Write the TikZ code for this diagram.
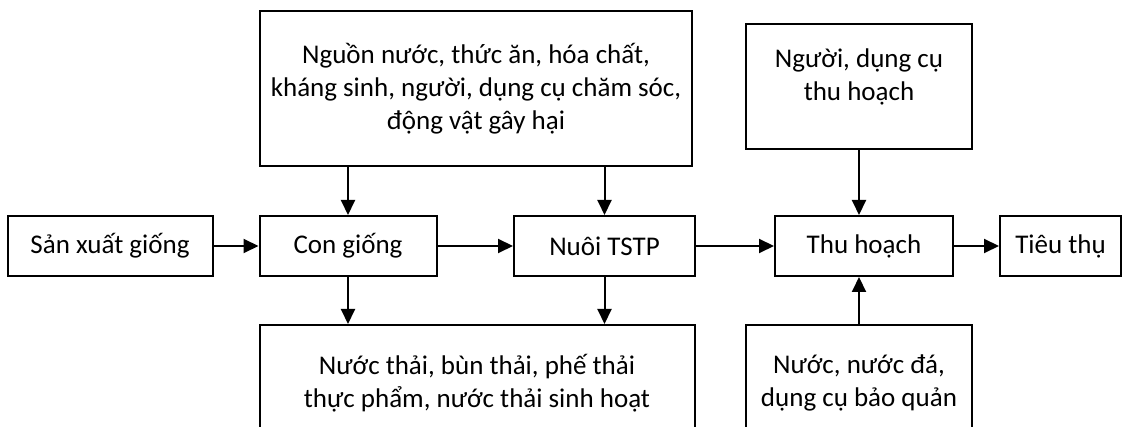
\documentclass[tikz,border=0pt]{standalone}
\usepackage{fontspec}
\setmainfont{Carlito}
\usetikzlibrary{arrows.meta, positioning}
\tikzset{%
    edge/.style={%
        -{Triangle[length=15pt, width=14pt]},
    },
    stage/.style={%
        rectangle,
        draw=black, line width=2pt,
        minimum height=60pt,
        font=\fontsize{27}{33}\selectfont,
        text centered,
    },
    factor/.style={%
        rectangle,
        draw=black, line width=2pt,
        font=\fontsize{27}{33}\selectfont,
        align=center,
    },
}
\begin{document}
\begin{tikzpicture}[x=1pt, y=-1pt, line width=2pt]
	\useasboundingbox (0,0) rectangle (1130,427);
	\clip (0,0) rectangle (1130,427);

	\node [stage, minimum width=205pt] at (110,246) (breed) {Sản xuất giống};
	\node [stage, minimum width=177pt] at (348,246) (seed) {Con giống};
	\node [stage, minimum width=181pt] at (604.5,246) (farm) {Nuôi TSTP};
	\node [stage, minimum width=178pt] at (864,246) (harvest) {Thu hoạch};
	\node [stage, minimum width=121pt] at (1060.5,246) (sale) {Tiêu thụ};

	\node [factor, minimum width=432pt, minimum height=155pt] at (476,89) (inputs)
		{Nguồn nước, thức ăn, hóa chất,\\ kháng sinh, người, dụng cụ chăm sóc,\\ động vật gây hại};
	\node [factor, minimum width=226pt, minimum height=125pt, text depth=24pt] at (859,87) (tools)
		{Người, dụng cụ\\ thu hoạch};
	\node [factor, minimum width=435pt, minimum height=116pt] at (477,383) (waste)
		{Nước thải, bùn thải, phế thải\\ thực phẩm, nước thải sinh hoạt};
	\node [factor, minimum width=226pt, minimum height=116pt] at (859,383) (keep)
		{Nước, nước đá,\\ dụng cụ bảo quản};

	\draw[edge] (breed) -- (seed);
	\draw[edge] (seed) -- (farm);
	\draw[edge] (farm) -- (harvest);
	\draw[edge] (harvest) -- (sale);

	\draw[edge] (inputs.south -| seed) -- (seed);
	\draw[edge] (inputs.south -| farm) -- (farm);
	\draw[edge] (tools.south) -- (tools.south |- harvest.north);
	\draw[edge] (keep.north) -- (keep.north |- harvest.south);

	\draw[edge] (seed) -- (seed |- waste.north);
	\draw[edge] (farm) -- (farm |- waste.north);
\end{tikzpicture}
\end{document}
